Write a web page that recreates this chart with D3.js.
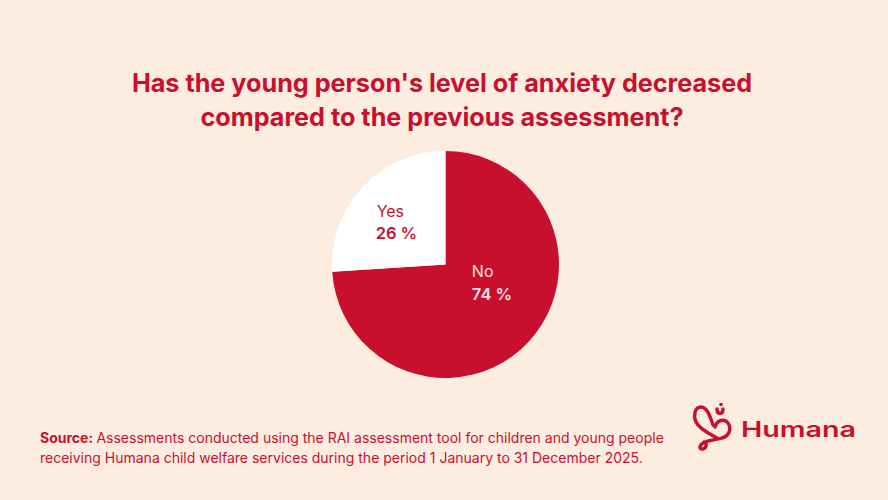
<!DOCTYPE html>
<html>
<head>
<meta charset="utf-8">
<script src="https://cdn.jsdelivr.net/npm/d3@7"></script>
<style>
  html, body { margin: 0; padding: 0; background: #fdede1; }
  svg { display: block; font-family: Inter, "Noto Sans", sans-serif; }
</style>
</head>
<body>
<div id="chart"></div>
<script>
const categories = ["No", "Yes"];
const values = [74, 26];
const titleLines = ["Has the young person's level of anxiety decreased", "compared to the previous assessment?"];
const sourceLines = ["Assessments conducted using the RAI assessment tool for children and young people",
    "receiving Humana child welfare services during the period 1 January to 31 December 2025."];

const width = 888;
const height = 500;
const red = "#c8102e";
const bg = "#fdede1";

const svg = d3.select("#chart")
    .append("svg")
    .attr("width", width)
    .attr("height", height);

svg.append("rect").attr("width", width).attr("height", height).attr("fill", bg);

// title
svg.append("g")
    .selectAll("text")
    .data(titleLines)
    .join("text")
    .attr("x", 442)
    .attr("y", (d, i) => 92 + i * 33.5)
    .attr("text-anchor", "middle")
    .attr("fill", red)
    .attr("font-size", 25.2)
    .attr("font-weight", 700)
    .text(d => d);

// pie
const radius = 113.5;
const pieData = categories.map((c, i) => ({ name: c, value: values[i] }));
const pie = d3.pie().sort(null).value(d => d.value);
const arc = d3.arc().innerRadius(0).outerRadius(radius);
const color = d3.scaleOrdinal().domain(categories).range([red, "#ffffff"]);
const labelColor = d3.scaleOrdinal().domain(categories).range(["#f7e1e3", red]);

const g = svg.append("g").attr("transform", "translate(445.5,264.5)");

g.selectAll("path")
    .data(pie(pieData))
    .join("path")
    .attr("d", arc)
    .attr("fill", d => color(d.data.name));

const labels = g.selectAll("g.lbl")
    .data(pie(pieData))
    .join("g")
    .attr("class", "lbl")
    .attr("transform", d => {
        const [cx, cy] = arc.centroid(d);
        return `translate(${cx},${cy})`;
    });

labels.append("text")
    .attr("x", d => d.data.name === "No" ? -15 : -27.5)
    .attr("y", d => d.data.name === "No" ? -26 : -9)
    .attr("fill", d => labelColor(d.data.name))
    .attr("font-size", 16)
    .text(d => d.data.name);

labels.append("text")
    .attr("x", d => d.data.name === "No" ? -15 : -28.5)
    .attr("y", d => d.data.name === "No" ? -3 : 13)
    .attr("fill", d => labelColor(d.data.name))
    .attr("font-size", 16.5)
    .attr("font-weight", 600)
    .text(d => d3.format("d")(d.data.value) + " %");

// source
const src = svg.append("g");
src.selectAll("text")
    .data(sourceLines)
    .join("text")
    .attr("x", 40)
    .attr("y", (d, i) => 442.7 + i * 20)
    .attr("fill", red)
    .attr("font-size", 14)
    .each(function (d, i) {
        const t = d3.select(this);
        if (i === 0) {
            t.append("tspan").attr("font-weight", 700).text("Source: ");
        }
        t.append("tspan").text(d);
    });

// logo
const logo = svg.append("g").attr("transform", "translate(688,400)");
logo.append("path")
    .attr("d", "M25,25 C22,16 19,7 13,7 C7,7 5,15 8,22 C11,29 22,34 29,38 " +
        "M27,27 C29,20 36,18 40,23 C44,29 41,36 34,38 C28,40 22,40 17,42 C12,44 10,49 14,49 C18,49 20,44 16,42 " +
        "M29,9 C29,15 35,15 35,9")
    .attr("fill", "none")
    .attr("stroke", red)
    .attr("stroke-width", 3.4)
    .attr("stroke-linecap", "round")
    .attr("stroke-linejoin", "round");
logo.append("circle").attr("cx", 33).attr("cy", 4.5).attr("r", 1.8).attr("fill", red);
logo.append("text")
    .attr("x", 53)
    .attr("y", 36.7)
    .attr("fill", red)
    .attr("font-size", 21.5)
    .attr("font-weight", 600)
    .attr("textLength", 115)
    .attr("lengthAdjust", "spacingAndGlyphs")
    .text("Humana");
</script>
</body>
</html>
